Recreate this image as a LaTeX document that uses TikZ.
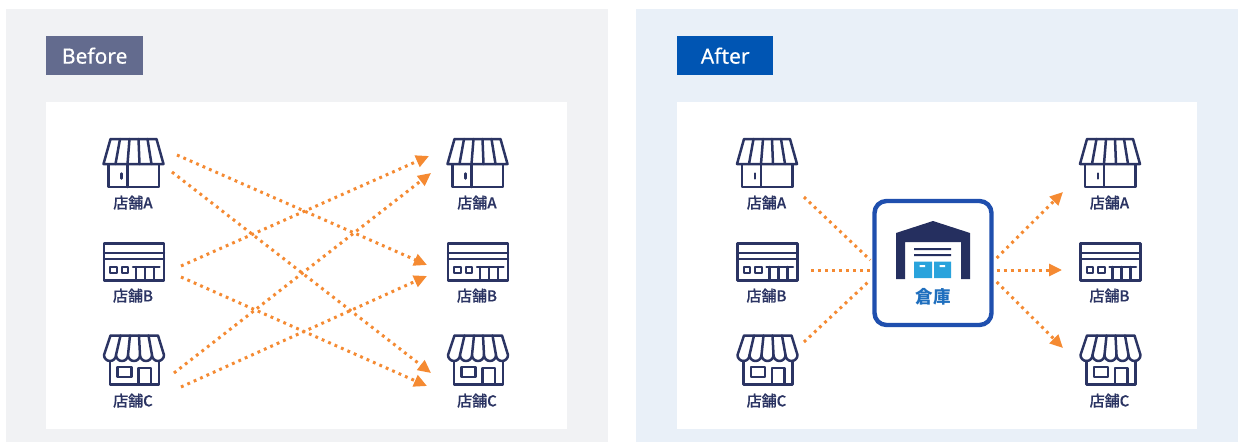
\documentclass[tikz,border=0pt]{standalone}
\usepackage{fontspec}
\setmainfont{Noto Sans}
\newfontfamily\cjkfont[FakeBold=0.3]{Noto Sans CJK JP Medium}
\newfontfamily\cjkbold{Noto Sans CJK JP}
\newfontfamily\tagfont[FakeBold=0.35]{Noto Sans}
\usetikzlibrary{arrows.meta,calc}
\definecolor{navy}{HTML}{2B3463}
\definecolor{wh}{HTML}{252F5F}
\definecolor{org}{HTML}{F58A32}
\definecolor{panelL}{HTML}{F1F2F4}
\definecolor{panelR}{HTML}{E9F0F8}
\definecolor{tagL}{HTML}{636B8E}
\definecolor{tagR}{HTML}{0055B3}
\definecolor{frameB}{HTML}{1F4FAE}
\definecolor{doorB}{HTML}{29A3DC}
\definecolor{whtext}{HTML}{1F6FBE}
\tikzset{
  x=1pt,y=-1pt,
  panelbox/.style={draw=none,inner sep=0pt,anchor=north west},
  tagbox/.style={inner sep=0pt,anchor=north west,text=white,font=\tagfont\fontsize{21}{24}\selectfont,minimum height=39pt},
  storeanchor/.style={inner sep=0pt,minimum width=61pt,minimum height=50pt},
  storeline/.style={draw=navy,line width=2.5pt,line join=round,line cap=round},
  storetext/.style={inner sep=0pt,text=navy,font=\cjkfont\fontsize{15}{16}\selectfont},
  flow/.style={draw=org,line width=3pt,dash pattern=on 2.8pt off 4.2pt,-{Triangle[length=13pt,width=12pt,fill=org]}},
  flowplain/.style={draw=org,line width=3pt,dash pattern=on 2.8pt off 4.2pt},
  pics/shopA/.style={code={
    \draw[storeline] (-23,-24) -- (23,-24) -- (30,1) -- (-30,1) -- cycle;
    \draw[storeline] (-13.5,-24) -- (-18,1) (-4,-24) -- (-6,1) (5,-24) -- (6,1) (14,-24) -- (18,1);
    \draw[storeline] (-25,1) rectangle (25.5,24);
    \draw[storeline] (-6,1) -- (-6,24);
    \draw[storeline] (-11.8,10.5) -- (-11.8,15.5);
  }},
  pics/shopB/.style={code={
    \draw[storeline] (-29.5,-18.7) rectangle (30.5,18.7);
    \draw[storeline] (-29.5,-9) -- (30.5,-9) (-29.5,-3) -- (30.5,-3);
    \draw[storeline,line width=2pt] (-23.5,4.5) rectangle (-17,10.5) (-12,4.5) rectangle (-5.5,10.5);
    \draw[storeline] (-0.5,5) -- (26,5) (2.5,5) -- (2.5,18.7) (11.5,5) -- (11.5,18.7) (20.5,5) -- (20.5,18.7);
  }},
  pics/shopC/.style={code={
    \draw[storeline] (-23,-24.5) -- (24.5,-24.5) -- (30.5,-5)
      arc[start angle=0,end angle=180,radius=6] arc[start angle=0,end angle=180,radius=6]
      arc[start angle=0,end angle=180,radius=6] arc[start angle=0,end angle=180,radius=6]
      arc[start angle=0,end angle=180,radius=6] -- cycle;
    \draw[storeline] (-13,-24.5) -- (-17.5,-5) (-3.5,-24.5) -- (-5.5,-5) (5.5,-24.5) -- (6.5,-5) (15,-24.5) -- (18.5,-5);
    \draw[storeline] (-23.5,1) -- (-23.5,24.5) -- (25.5,24.5) -- (25.5,1);
    \draw[storeline] (-16,7) rectangle (-2,17);
    \draw[storeline] (5,24.5) -- (5,8) -- (17.5,8) -- (17.5,24.5);
  }},
}
\begin{document}
\begin{tikzpicture}
\useasboundingbox (0,0) rectangle (1243,442);
\fill[white] (0,0) rectangle (1243,442);
% panels
\node[panelbox,fill=panelL,minimum width=602pt,minimum height=433pt] (pl) at (6,9) {};
\node[panelbox,fill=panelR,minimum width=602pt,minimum height=433pt] (pr) at (636,9) {};
\node[panelbox,fill=white,minimum width=521pt,minimum height=327pt] (wl) at (46,102) {};
\node[panelbox,fill=white,minimum width=520pt,minimum height=327pt] (wr) at (677,102) {};
\node[tagbox,fill=tagL,minimum width=97pt] (tl) at (46,36) {Before};
\node[tagbox,fill=tagR,minimum width=96pt] (tr) at (677,36) {After};
% stores
\newcommand{\storeat}[6]{%
  \node[storeanchor] (#1) at (#2,#3) {};
  \pic at (#1.center) {#4};
  \node[storetext] (#1t) at (#2-0.5,#3+#5+0.7) {店舗#6};
}
\foreach \nm/\cx in {l/133.5,m/477.5,n/767,o/1110}{
  \storeat{\nm a}{\cx}{163}{shopA}{39}{A}
  \storeat{\nm b}{\cx}{262}{shopB}{33}{B}
  \storeat{\nm c}{\cx}{360}{shopC}{40}{C}
}
% before connectors
\draw[flow] ($(la)+(43.5,-8)$) -- ($(mb)+(-50.5,3)$);
\draw[flow] ($(la)+(38.5,9)$) -- ($(mc)+(-46.5,13)$);
\draw[flow] ($(lb)+(47.5,4)$) -- ($(ma)+(-48.5,-7)$);
\draw[flow] ($(lb)+(47.5,15)$) -- ($(mc)+(-50.5,26)$);
\draw[flow] ($(lc)+(40.5,13)$) -- ($(ma)+(-46.5,10)$);
\draw[flow] ($(lc)+(47.5,27)$) -- ($(mb)+(-50.5,14)$);
% warehouse
\node[draw=frameB,line width=4.4pt,rounded corners=12pt,fill=white,minimum width=117pt,minimum height=124pt,inner sep=0pt] (wh) at (933,263) {};
\fill[wh] (896,233) -- (933,221) -- (970,233) -- (970,279) -- (961,279) -- (961,242) -- (905,242) -- (905,279) -- (896,279) -- cycle;
\fill[wh] (914,248) rectangle (951,250) (914,254) rectangle (951,256);
\fill[doorB] (914,261.5) rectangle (932,278) (934,261.5) rectangle (951,278);
\fill[white] (919.5,265) rectangle (925,267) (939.5,265) rectangle (945,267);
\node[inner sep=0pt,text=whtext,font=\cjkbold\bfseries\fontsize{17.5}{19}\selectfont] (wt) at (933,297) {倉庫};
% after connectors
\draw[flowplain] ($(na)+(37,34)$) -- ($(wh.west)+(-2,-3)$);
\draw[flowplain] ($(nb)+(44,8)$) -- ($(wh.west)+(-2,7)$);
\draw[flowplain] ($(nc)+(37,-18)$) -- ($(wh.west)+(-2,17)$);
\draw[flow] ($(wh.east)+(3,-5)$) -- ($(oa)+(-47,29)$);
\draw[flow] ($(wh.east)+(3,7)$) -- ($(ob)+(-48,8)$);
\draw[flow] ($(wh.east)+(3,19)$) -- ($(oc)+(-47,-12)$);
\end{tikzpicture}
\end{document}
